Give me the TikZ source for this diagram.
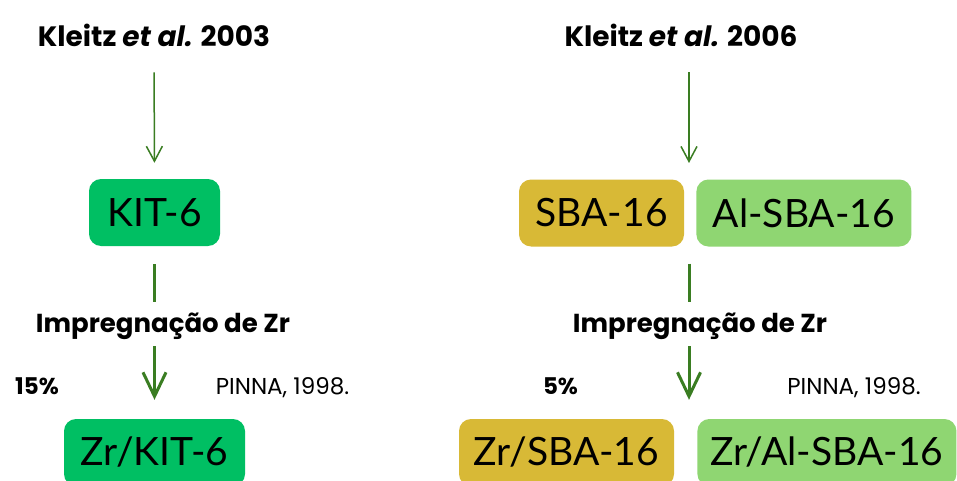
\documentclass[tikz,border=0pt]{standalone}
\usepackage{fontspec}
\setmainfont{Lato}
\newfontfamily\labelfont{Poppins}
\usetikzlibrary{positioning,arrows.meta}
\definecolor{kitgreen}{HTML}{00BF63}
\definecolor{sbagold}{HTML}{D8B936}
\definecolor{algreen}{HTML}{8FD672}
\definecolor{arrowgreen}{HTML}{3A7D22}

\begin{document}
\begin{tikzpicture}[
  x=1pt, y=-1pt,
  title/.style={font=\labelfont\fontsize{28}{34}\selectfont\bfseries, anchor=base, inner sep=0pt},
  matbox/.style={rounded corners=12pt, inner sep=0pt, minimum height=67pt, font=\fontsize{39}{46}\selectfont},
  steplabel/.style={font=\labelfont\fontsize{26}{30}\selectfont\bfseries, anchor=base, inner sep=0pt, text height=18pt, text depth=2pt, inner ysep=12pt},
  note/.style={font=\labelfont\fontsize{23}{27}\selectfont, anchor=base, inner sep=0pt},
  thinarrow/.style={arrowgreen, line width=1.5pt, -{Straight Barb[length=15pt,width=16pt]}},
  stem/.style={arrowgreen, line width=3pt},
  thickarrow/.style={stem, -{Straight Barb[length=24pt,width=23pt]}}
]
\useasboundingbox (0,0) rectangle (957,481);
\fill[white] (0,0) rectangle (957,481);

% left: KIT-6
\node[title] (titleL) at (154,47) {Kleitz \textit{et al.} 2003};
\node[matbox, fill=kitgreen, minimum width=131pt] (kit) at (154.5,212.5) {KIT-6};
\node[steplabel] (impL) at (163,332) {Impregnação de Zr};
\node[note, font=\labelfont\fontsize{23}{27}\selectfont\bfseries] (pctL) at (37,394) {15\%};
\node[note] (pinnaL) at (282.5,394) {PINNA, 1998.};
\node[matbox, fill=kitgreen, minimum width=181pt] (zrkit) at (154.5,452.5) {Zr/KIT-6};

\draw[thinarrow, shorten <=25pt, shorten >=16pt] (titleL.south) -- (kit.north);
\draw[stem, shorten <=18pt] (kit.south) -- (kit.south |- impL.north);
\draw[thickarrow, shorten >=19pt] (kit.south |- impL.south) -- (zrkit.north);

% right: SBA-16 and Al-SBA-16
\node[title] (titleR) at (681,47) {Kleitz \textit{et al.} 2006};
\coordinate (splitR) at (689,179);
\node[matbox, fill=sbagold, minimum width=165pt] (sba) at (601.5,213) {SBA-16};
\node[matbox, fill=algreen, minimum width=215pt, right=12pt of sba] (alsba) {Al-SBA-16};
\node[steplabel] (impR) at (700,332) {Impregnação de Zr};
\node[note, font=\labelfont\fontsize{23}{27}\selectfont\bfseries] (pctR) at (560.5,394) {5\%};
\node[note] (pinnaR) at (854,394) {PINNA, 1998.};
\node[matbox, fill=sbagold, minimum width=215pt] (zrsba) at (566.5,452.5) {Zr/SBA-16};
\node[matbox, fill=algreen, minimum width=259pt, right=23pt of zrsba] (zralsba) {Zr/Al-SBA-16};

\draw[thinarrow, shorten <=25pt, shorten >=16pt] (titleR.south -| splitR) -- (splitR);
\draw[stem, shorten <=17pt] (splitR |- sba.south) -- (splitR |- impR.north);
\draw[thickarrow, shorten >=19pt] (splitR |- impR.south) -- (splitR |- zrsba.north);

\end{tikzpicture}
\end{document}
